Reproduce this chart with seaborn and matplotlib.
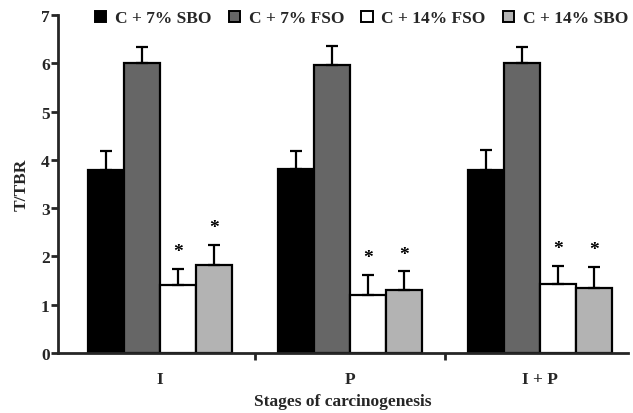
import matplotlib
matplotlib.use("Agg")
import matplotlib.pyplot as plt
import seaborn as sns
import pandas as pd
import numpy as np
from matplotlib.patches import Patch

stages = ["I", "P", "I + P"]
series = ["C + 7% SBO", "C + 7% FSO", "C + 14% FSO", "C + 14% SBO"]
vals_sbo7 = [3.80, 3.82, 3.80]
vals_fso7 = [6.00, 5.97, 6.00]
vals_fso14 = [1.41, 1.20, 1.43]
vals_sbo14 = [1.83, 1.31, 1.35]
err_sbo7 = [0.38, 0.37, 0.40]
err_fso7 = [0.33, 0.40, 0.35]
err_fso14 = [0.34, 0.41, 0.38]
err_sbo14 = [0.41, 0.38, 0.43]
signif = [False, False, True, True]

colors = ["#000000", "#666666", "#ffffff", "#b3b3b3"]

sns.set_theme(style="ticks")
plt.rcParams["font.family"] = ["Liberation Serif", "DejaVu Serif"]
plt.rcParams["font.weight"] = "bold"

rows = []
allv = [vals_sbo7, vals_fso7, vals_fso14, vals_sbo14]
alle = [err_sbo7, err_fso7, err_fso14, err_sbo14]
for s, v, e in zip(series, allv, alle):
    for st, vv, ee in zip(stages, v, e):
        rows.append({"stage": st, "series": s, "value": vv, "err": ee})
df = pd.DataFrame(rows)

fig = plt.figure(figsize=(6.33, 4.14), dpi=100)
ax = fig.add_axes([0.0916, 0.145, 0.9004, 0.816])

sns.barplot(data=df, x="stage", y="value", hue="series", order=stages,
            hue_order=series, palette=colors, errorbar=None, width=0.76,
            edgecolor="black", linewidth=1.6, ax=ax, legend=False, saturation=1)

# error bars & asterisks
for i, s in enumerate(series):
    cont = ax.containers[i]
    for j, bar in enumerate(cont):
        x = bar.get_x() + bar.get_width() / 2
        h = bar.get_height()
        e = alle[i][j]
        ax.errorbar(x, h, yerr=[[0], [e]], fmt="none", ecolor="black",
                    elinewidth=1.6, capsize=4.5, capthick=1.6, zorder=1)
        if signif[i]:
            ax.text(x, h + e + 0.36, "*", ha="center", va="center",
                    fontsize=14, fontweight="bold", color="black")

ax.set_ylim(0, 7)
ax.set_xlim(-0.537, 2.463)
ax.set_yticks(range(0, 8))
ax.set_yticklabels([str(i) for i in range(8)], fontsize=12.5, fontweight="bold")
ax.set_xticks(range(3))
ax.set_xticklabels(stages, fontsize=12.5, fontweight="bold")
ax.tick_params(axis="x", length=0, pad=13)
ax.set_xticks([0.5, 1.5], minor=True)
ax.tick_params(axis="x", which="minor", length=5, width=2, direction="out")
ax.tick_params(axis="y", length=5, width=2, direction="out", pad=1)
for sp in ["top", "right"]:
    ax.spines[sp].set_visible(False)
for sp in ["left", "bottom"]:
    ax.spines[sp].set_linewidth(2)
ax.set_ylabel("T/TBR", fontsize=12.5, fontweight="bold", labelpad=8)
ax.set_xlabel("Stages of carcinogenesis", fontsize=12.5, fontweight="bold", labelpad=4)

handles = [Patch(facecolor=c, edgecolor="black", linewidth=1.4) for c in colors]
leg = fig.legend(handles, series, loc="upper left", bbox_to_anchor=(0.125, 1.01),
                 ncol=4, frameon=False, handlelength=0.65,
                 handleheight=0.65, handletextpad=0.5, columnspacing=1.0,
                 prop={"weight": "bold", "size": 12.5})

fig.savefig("out.png", dpi=100)
